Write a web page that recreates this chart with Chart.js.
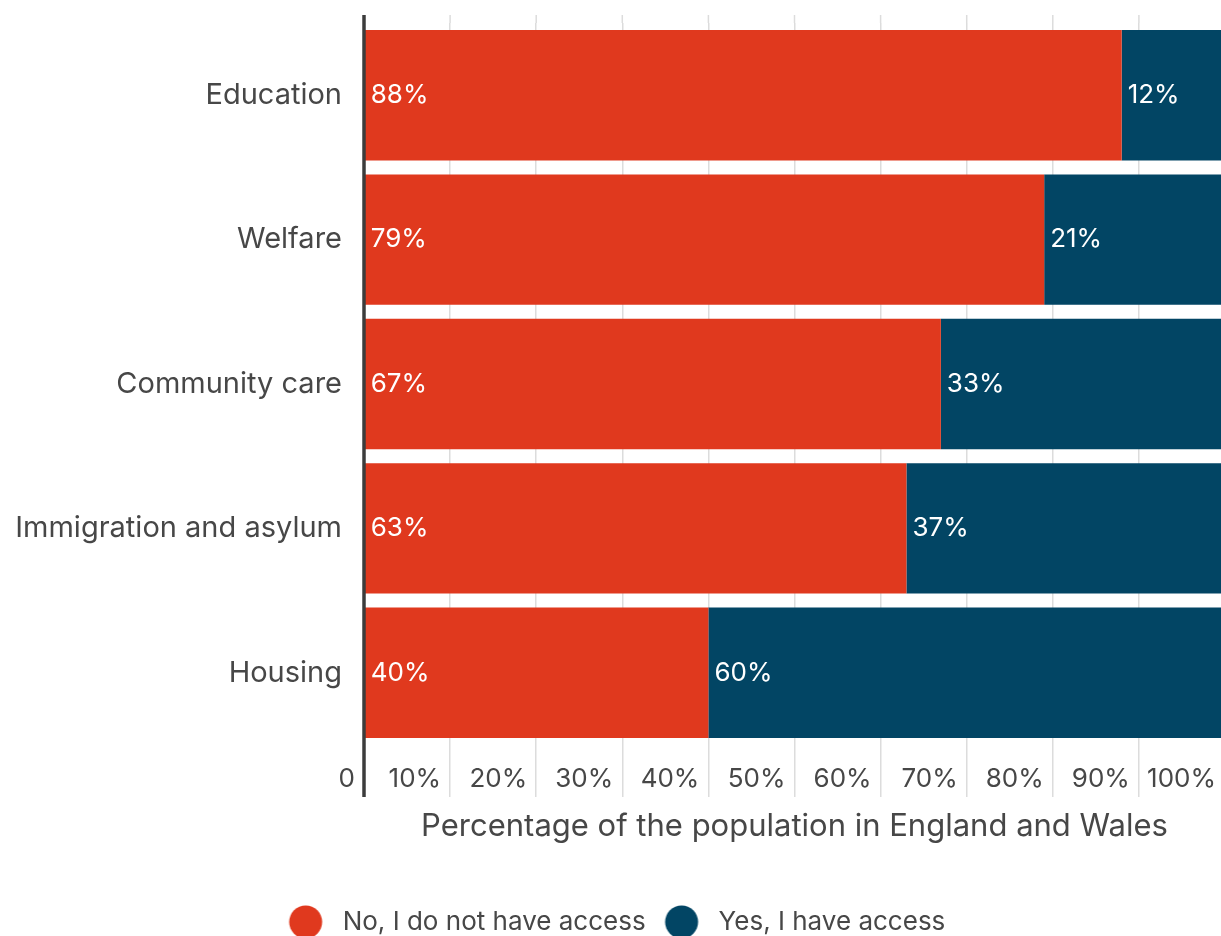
<!DOCTYPE html>
<html>
<head>
<meta charset="utf-8">
<script src="https://cdn.jsdelivr.net/npm/chart.js@4.4.1/dist/chart.umd.min.js"></script>
<style>
  html, body { margin: 0; padding: 0; background: #fff; overflow: hidden; }
  .chart-box { width: 1225px; height: 945px; }
</style>
</head>
<body>
<div class="chart-box"><canvas id="accessChart"></canvas></div>
<script>
const categories = ['Education', 'Welfare', 'Community care', 'Immigration and asylum', 'Housing'];
const noAccess = [88, 79, 67, 63, 40];
const hasAccess = [12, 21, 33, 37, 60];
const seriesNames = ['No, I do not have access', 'Yes, I have access'];
const axisTitle = 'Percentage of the population in England and Wales';

const RED = '#e0391e';
const NAVY = '#024564';
const TEXT = '#474747';
const GRID = '#dcdcdc';
const FONT = 'Inter, "Open Sans", sans-serif';

// legend dot: a circle sitting left of centre in a wider canvas, so the
// gap to the label text comes out right
function legendDot(color) {
  const c = document.createElement('canvas');
  c.width = 50;
  c.height = 34;
  const g = c.getContext('2d');
  g.fillStyle = color;
  g.beginPath();
  g.arc(20, 17, 16.5, 0, Math.PI * 2);
  g.fill();
  return c;
}
const dots = [legendDot(RED), legendDot(NAVY)];

// dark axis line at 0 + grid lines poking a bit above the first bar
const axisLine = {
  id: 'axisLine',
  afterDatasetsDraw(chart) {
    const { ctx, chartArea, scales: { x } } = chart;
    const top = chartArea.top - 8;
    const bottom = chartArea.bottom + x.options.grid.tickLength;
    ctx.save();
    ctx.strokeStyle = GRID;
    ctx.lineWidth = 1.5;
    x.ticks.forEach(t => {
      if (t.value === 0) return;
      const px = x.getPixelForValue(t.value);
      ctx.beginPath();
      ctx.moveTo(px, top);
      ctx.lineTo(px, chartArea.top);
      ctx.stroke();
    });
    const x0 = x.getPixelForValue(0);
    ctx.strokeStyle = '#3c3c3c';
    ctx.lineWidth = 3.5;
    ctx.beginPath();
    ctx.moveTo(x0, top);
    ctx.lineTo(x0, bottom);
    ctx.stroke();
    ctx.restore();
  }
};

// white value labels at the left edge of each segment
const segmentLabels = {
  id: 'segmentLabels',
  afterDatasetsDraw(chart) {
    const ctx = chart.ctx;
    ctx.save();
    ctx.font = '26px ' + FONT;
    ctx.fillStyle = '#fff';
    ctx.textAlign = 'left';
    ctx.textBaseline = 'middle';
    chart.data.datasets.forEach((ds, i) => {
      chart.getDatasetMeta(i).data.forEach((bar, j) => {
        ctx.fillText(ds.data[j] + '%', bar.base + 6, bar.y);
      });
    });
    ctx.restore();
  }
};

new Chart(document.getElementById('accessChart'), {
  type: 'bar',
  data: {
    labels: categories,
    datasets: [
      { label: seriesNames[0], data: noAccess, backgroundColor: RED },
      { label: seriesNames[1], data: hasAccess, backgroundColor: NAVY }
    ]
  },
  options: {
    indexAxis: 'y',
    responsive: true,
    maintainAspectRatio: false,
    animation: false,
    layout: { padding: { top: 23, left: 12 } },
    datasets: { bar: { categoryPercentage: 1, barPercentage: 0.903, borderWidth: 0 } },
    plugins: {
      tooltip: { enabled: false },
      legend: {
        position: 'bottom',
        labels: {
          usePointStyle: true,
          pointStyleWidth: 38,
          boxHeight: 23,
          padding: 22,
          color: TEXT,
          font: { family: FONT, size: 26 },
          generateLabels(chart) {
            return Chart.defaults.plugins.legend.labels.generateLabels(chart)
              .map((item, i) => Object.assign(item, { pointStyle: dots[i] }));
          }
        }
      }
    },
    scales: {
      x: {
        stacked: true,
        min: 0,
        max: 100,
        afterFit(scale) { scale.height = 142; },
        grid: { color: GRID, lineWidth: 1.5, tickLength: 52, tickColor: GRID },
        border: { display: false },
        ticks: {
          stepSize: 10,
          align: 'end',
          labelOffset: -9,
          padding: -33,
          color: TEXT,
          font: { family: FONT, size: 26 },
          callback: v => v === 0 ? '0' : v + '%'
        },
        title: {
          display: true,
          text: axisTitle,
          color: TEXT,
          font: { family: FONT, size: 31 },
          padding: { top: 0, bottom: 42 }
        }
      },
      y: {
        stacked: true,
        afterFit(scale) {
          scale.width = 352;
          scale.paddingTop = 0;
          scale.paddingBottom = 0;
        },
        grid: { display: false, drawTicks: false },
        border: { display: false },
        ticks: { padding: 22, color: TEXT, font: { family: FONT, size: 29 } }
      }
    }
  },
  plugins: [axisLine, segmentLabels]
});
</script>
</body>
</html>
